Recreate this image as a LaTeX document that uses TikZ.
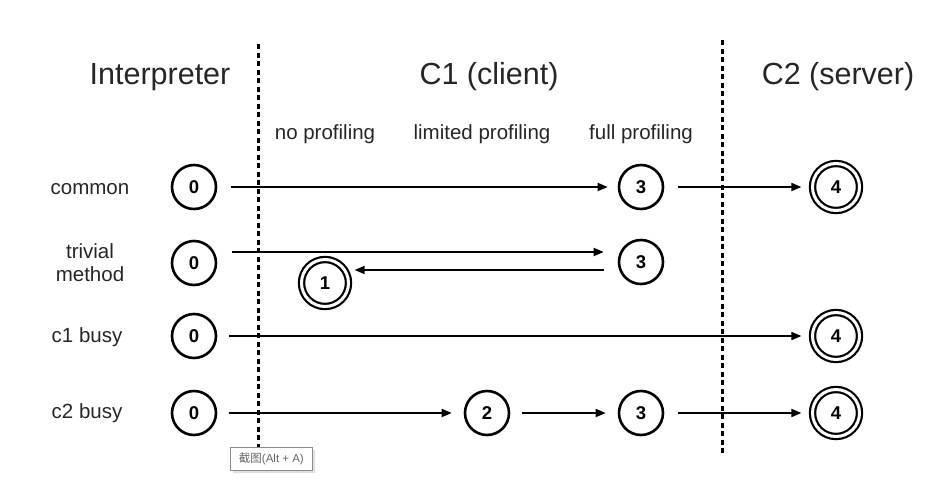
\documentclass[tikz,border=0pt]{standalone}
\usepackage{fontspec}
\setmainfont{Liberation Sans}
\newfontfamily\cjkfont{Noto Sans CJK SC}
\usetikzlibrary{arrows.meta}
\begin{document}
\begin{tikzpicture}[x=1pt,y=-1pt,
  tier/.style={font=\fontsize{30.5}{32}\selectfont, text=black!85},
  sub/.style={font=\fontsize{20.5}{22}\selectfont, text=black!85},
  rowlab/.style={font=\fontsize{20.5}{23}\selectfont, text=black!85, align=center},
  st/.style={circle, draw, line width=2.6pt, minimum size=44pt, inner sep=0pt, font=\fontsize{18.5}{18}\selectfont\bfseries},
  fin/.style={circle, draw, line width=2.2pt, double, double distance=3pt, minimum size=47pt, inner sep=0pt, font=\fontsize{18.5}{18}\selectfont\bfseries},
  arr/.style={line width=1.8pt, -{Triangle[length=10pt,width=8pt]}},
  sep/.style={line width=3pt, dash pattern=on 5pt off 3.5pt}]
\useasboundingbox (0,0) rectangle (945,493);
% separators
\coordinate (s1t) at (258,44); \coordinate (s1b) at (258,450);
\coordinate (s2t) at (722,40); \coordinate (s2b) at (722,456);
\draw[sep] (s1t) -- (s1b);
\draw[sep] (s2t) -- (s2b);
% headings
\node[tier] (hI) at (160,77) {Interpreter};
\node[tier] (hC1) at (489,77) {C1 (client)};
\node[tier] (hC2) at (838,77) {C2 (server)};
\node[sub] (p0) at (325,134) {no profiling};
\node[sub] (p1) at (482,134) {limited profiling};
\node[sub] (p2) at (641,134) {full profiling};
% row labels
\node[rowlab] (lc) at (90,189) {common};
\node[rowlab] (lt) at (90,263) {trivial\\method};
\node[rowlab] (lb1) at (87,337) {c1 busy};
\node[rowlab] (lb2) at (87,413) {c2 busy};
% row 1
\node[st] (a0) at (194,187) {0};
\node[st] (a3) at (641,187) {3};
\node[fin] (a4) at (836,187) {4};
\draw[arr, shorten <=14pt, shorten >=10pt] (a0) -- (a3);
\draw[arr, shorten <=14pt, shorten >=10pt] (a3) -- (a4);
% row 2
\node[st] (t0) at (194,263) {0};
\node[st] (t3) at (641,262) {3};
\node[fin] (t1) at (325,283) {1};
\draw[arr, shorten <=15pt, shorten >=14pt] ([yshift=11pt]t0.east) -- ([yshift=11pt]t0.east -| t3.west);
\draw[arr, shorten <=14pt, shorten >=5pt] ([yshift=-8pt]t3.west) -- ([yshift=-8pt]t3.west -| t1.east);
% row 3
\node[st] (b0) at (194,336) {0};
\node[fin] (b4) at (836,336) {4};
\draw[arr, shorten <=12pt, shorten >=10pt] (b0) -- (b4);
% row 4
\node[st] (c0) at (194,413) {0};
\node[st] (c2) at (487,413) {2};
\node[st] (c3) at (641,413) {3};
\node[fin] (c4) at (836,413) {4};
\draw[arr, shorten <=12pt, shorten >=12pt] (c0) -- (c2);
\draw[arr, shorten <=12pt, shorten >=12pt] (c2) -- (c3);
\draw[arr, shorten <=14pt, shorten >=10pt] (c3) -- (c4);
% tooltip
\fill[black!12] (233,450) rectangle (315,473);
\node[draw=black!45, fill=white, line width=0.8pt, minimum width=82pt, minimum height=23pt, inner sep=0pt, anchor=north west, text=black!60, font=\fontsize{11.5}{12}\selectfont] (tip) at (230,447) {{\cjkfont 截图}(Alt + A)};
\end{tikzpicture}
\end{document}
